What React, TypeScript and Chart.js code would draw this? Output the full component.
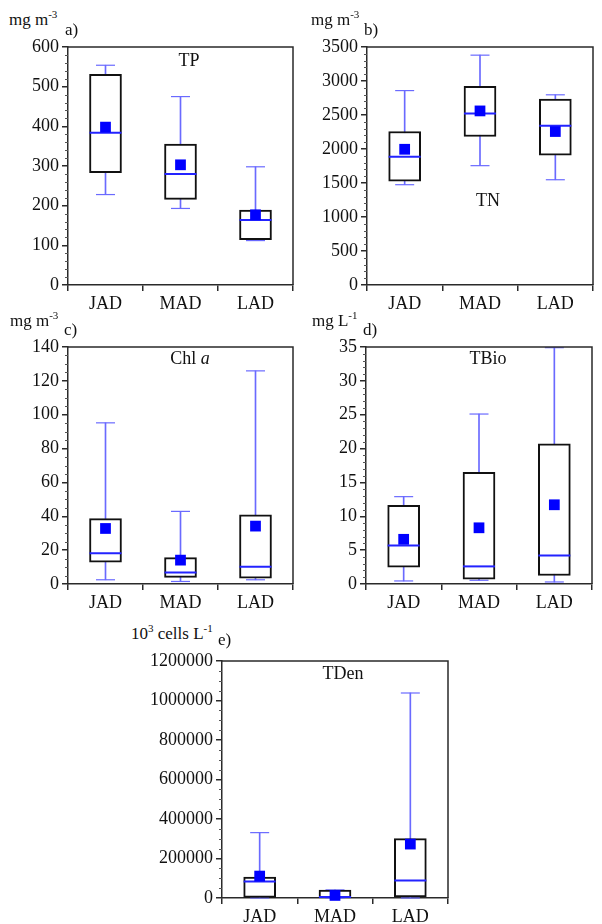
import React, { useEffect, useRef } from 'react';
import { Chart, registerables } from 'chart.js';

Chart.register(...registerables);
Chart.defaults.font.family = "'Liberation Serif', 'DejaVu Serif', serif";

// ---------- data ----------
const categories = ['JAD', 'MAD', 'LAD'];

// a) TP (mg m-3)
const tpMin = [228, 193, 112];
const tpQ1 = [283, 216, 114];
const tpMedian = [384, 280, 164];
const tpQ3 = [531, 355, 189];
const tpMax = [554, 475, 298];
const tpMean = [398, 303, 177];

// b) TN (mg m-3)
const tnMin = [1475, 1755, 1548];
const tnQ1 = [1528, 2184, 1909];
const tnMedian = [1885, 2522, 2343];
const tnQ3 = [2257, 2922, 2734];
const tnMax = [2859, 3380, 2797];
const tnMean = [1996, 2560, 2257];

// c) Chl a (mg m-3)
const chlMin = [2.5, 1.5, 2.5];
const chlQ1 = [12.9, 3.9, 3.5];
const chlMedian = [18.2, 6.8, 10.2];
const chlQ3 = [38.6, 15.6, 40.9];
const chlMax = [95.2, 42.9, 125.9];
const chlMean = [32.8, 14.1, 34.2];

// d) TBio (mg L-1)
const bioMin = [0.45, 0.55, 0.3];
const bioQ1 = [2.5, 0.73, 1.26];
const bioMedian = [5.7, 2.6, 4.2];
const bioQ3 = [11.6, 16.5, 20.7];
const bioMax = [12.9, 25.1, 34.9];
const bioMean = [6.6, 8.3, 11.7];

// e) TDen (10^3 cells L-1)
const denMin = [0, 0, 0];
const denQ1 = [3000, 2000, 5000];
const denMedian = [83000, 5000, 88000];
const denQ3 = [106000, 40000, 301000];
const denMax = [331000, 41000, 1038000];
const denMean = [111000, 13000, 273000];

// y-axis settings
const tpTicks = { max: 600, step: 100, minor: 4 };
const tnTicks = { max: 3500, step: 500, minor: 4 };
const chlTicks = { max: 140, step: 20, minor: 3 };
const bioTicks = { max: 35, step: 5, minor: 4 };
const denTicks = { max: 1200000, step: 200000, minor: 3 };

// ---------- layout ----------
const Y_W = 78;
const PAD_T = 14;
const PAD_R = 4;
const X_H = 30;
const FONT = "'Liberation Serif', 'DejaVu Serif', serif";
const AXIS = '#2a2a2a';
const WHISKER = '#6a6aff';
const MEDIAN = '#2323ff';
const MEAN = '#0000ff';

type Panel = {
  key: string;
  min: number[]; q1: number[]; median: number[]; q3: number[]; max: number[]; mean: number[];
  ticks: { max: number; step: number; minor: number };
  rect: { l: number; t: number; r: number; b: number };
};

const panels: Panel[] = [
  { key: 'a', min: tpMin, q1: tpQ1, median: tpMedian, q3: tpQ3, max: tpMax, mean: tpMean, ticks: tpTicks, rect: { l: 68, t: 43, r: 307, b: 285 } },
  { key: 'b', min: tnMin, q1: tnQ1, median: tnMedian, q3: tnQ3, max: tnMax, mean: tnMean, ticks: tnTicks, rect: { l: 367, t: 43, r: 607, b: 285 } },
  { key: 'c', min: chlMin, q1: chlQ1, median: chlMedian, q3: chlQ3, max: chlMax, mean: chlMean, ticks: chlTicks, rect: { l: 68, t: 343, r: 307, b: 584 } },
  { key: 'd', min: bioMin, q1: bioQ1, median: bioMedian, q3: bioQ3, max: bioMax, mean: bioMean, ticks: bioTicks, rect: { l: 366, t: 343, r: 606, b: 584 } },
  { key: 'e', min: denMin, q1: denQ1, median: denMedian, q3: denQ3, max: denMax, mean: denMean, ticks: denTicks, rect: { l: 222, t: 657, r: 462, b: 898 } },
];

const framePlugin = {
  id: 'frameMinor',
  afterDraw(chart: any) {
    const { ctx, chartArea } = chart;
    const y = chart.scales.y;
    const o = chart.options.plugins.frameMinor || {};
    ctx.save();
    ctx.strokeStyle = AXIS;
    ctx.lineWidth = 1.5;
    ctx.beginPath();
    ctx.moveTo(chartArea.left, chartArea.top);
    ctx.lineTo(chartArea.right, chartArea.top);
    ctx.lineTo(chartArea.right, chartArea.bottom);
    ctx.stroke();
    // minor ticks on y axis
    ctx.lineWidth = 1;
    ctx.strokeStyle = '#555';
    const sub = o.step / (o.minor + 1);
    ctx.beginPath();
    for (let v = 0; v <= o.max + 1e-9; v += sub) {
      const k = Math.round(v / sub);
      if (k % (o.minor + 1) === 0) continue;
      const py = Math.round(y.getPixelForValue(v)) + 0.5;
      ctx.moveTo(chartArea.left - 3, py);
      ctx.lineTo(chartArea.left, py);
    }
    ctx.stroke();
    ctx.restore();
  },
};

function BoxChart({ p }: { p: Panel }) {
  const ref = useRef<HTMLCanvasElement>(null);
  const w = Y_W + (p.rect.r - p.rect.l) + PAD_R;
  const h = PAD_T + (p.rect.b - p.rect.t) + X_H;
  useEffect(() => {
    if (!ref.current) return;
    const font = { family: FONT, size: 18 };
    const chart = new Chart(ref.current, {
      type: 'bar',
      data: {
        labels: categories,
        datasets: [
          { type: 'line', label: 'mean', data: p.mean, showLine: false, pointStyle: 'rect', pointRadius: 7.6, pointBackgroundColor: MEAN, pointBorderColor: MEAN, pointBorderWidth: 0, order: 0, clip: false } as any,
          { type: 'line', label: 'median', data: p.median, showLine: false, pointStyle: 'line', pointRadius: 16, pointBorderColor: MEDIAN, pointBorderWidth: 2, order: 1, clip: false } as any,
          { type: 'bar', label: 'box', data: p.q1.map((v, i) => [v, p.q3[i]]), backgroundColor: '#ffffff', borderColor: '#111111', borderWidth: 2, borderSkipped: false, barThickness: 32, grouped: false, order: 2 } as any,
          { type: 'line', label: 'max', data: p.max, showLine: false, pointStyle: 'line', pointRadius: 9.5, pointBorderColor: WHISKER, pointBorderWidth: 1.2, order: 3, clip: false } as any,
          { type: 'line', label: 'min', data: p.min, showLine: false, pointStyle: 'line', pointRadius: 9.5, pointBorderColor: WHISKER, pointBorderWidth: 1.2, order: 3, clip: false } as any,
          { type: 'bar', label: 'whisker', data: p.min.map((v, i) => [v, p.max[i]]), backgroundColor: WHISKER, borderWidth: 0, barThickness: 1, grouped: false, order: 4 } as any,
        ],
      },
      options: {
        animation: false,
        responsive: false,
        devicePixelRatio: 1,
        layout: { padding: { top: PAD_T, right: PAD_R, left: 0, bottom: 0 } },
        plugins: {
          legend: { display: false },
          tooltip: { enabled: false },
          frameMinor: p.ticks,
        } as any,
        scales: {
          x: {
            grid: { display: true, drawOnChartArea: false, drawTicks: true, tickLength: 6, offset: true, color: AXIS, lineWidth: 1.5 },
            border: { display: true, color: AXIS, width: 1.5 },
            ticks: { font, color: '#111', padding: 2, maxRotation: 0 },
            afterFit: (s: any) => { s.height = X_H; },
          },
          y: {
            min: 0,
            max: p.ticks.max,
            ticks: { stepSize: p.ticks.step, font, color: '#111', padding: 3, callback: (v: any) => String(v) },
            grid: { display: true, drawOnChartArea: false, drawTicks: true, tickLength: 6, color: AXIS, lineWidth: 1.5 },
            border: { display: true, color: AXIS, width: 1.5 },
            afterFit: (s: any) => { s.width = Y_W; },
          },
        },
      } as any,
      plugins: [framePlugin],
    });
    return () => chart.destroy();
  }, [p]);
  return (
    <canvas
      ref={ref}
      width={w}
      height={h}
      style={{ position: 'absolute', left: p.rect.l - Y_W, top: p.rect.t - PAD_T, width: w, height: h }}
    />
  );
}

const txt: React.CSSProperties = { position: 'absolute', fontFamily: FONT, fontSize: 17, lineHeight: 1, color: '#111', whiteSpace: 'nowrap' };
const sup: React.CSSProperties = { fontSize: 11, verticalAlign: 7 };
const ttl: React.CSSProperties = { ...txt, fontSize: 18, transform: 'translate(-50%, -50%)' };

export default function App() {
  return (
    <div style={{ position: 'fixed', left: 0, top: 0, width: 602, height: 924, overflow: 'hidden', background: '#fff' }}>
      {panels.map((p) => <BoxChart key={p.key} p={p} />)}

      {/* unit labels */}
      <div style={{ ...txt, left: 9, top: 9 }}>mg m<span style={sup}>-3</span></div>
      <div style={{ ...txt, left: 311, top: 9 }}>mg m<span style={sup}>-3</span></div>
      <div style={{ ...txt, left: 10, top: 310 }}>mg m<span style={sup}>-3</span></div>
      <div style={{ ...txt, left: 312, top: 310 }}>mg L<span style={sup}>-1</span></div>
      <div style={{ ...txt, left: 131, top: 623 }}>10<span style={sup}>3</span> cells L<span style={sup}>-1</span></div>

      {/* panel letters */}
      <div style={{ ...txt, left: 65, top: 21 }}>a)</div>
      <div style={{ ...txt, left: 364, top: 21 }}>b)</div>
      <div style={{ ...txt, left: 64, top: 321 }}>c)</div>
      <div style={{ ...txt, left: 363, top: 321 }}>d)</div>
      <div style={{ ...txt, left: 218, top: 631 }}>e)</div>

      {/* titles */}
      <div style={{ ...ttl, left: 189, top: 60 }}>TP</div>
      <div style={{ ...ttl, left: 488, top: 200 }}>TN</div>
      <div style={{ ...ttl, left: 190, top: 358 }}>Chl <i>a</i></div>
      <div style={{ ...ttl, left: 488, top: 358 }}>TBio</div>
      <div style={{ ...ttl, left: 343, top: 673 }}>TDen</div>
    </div>
  );
}
